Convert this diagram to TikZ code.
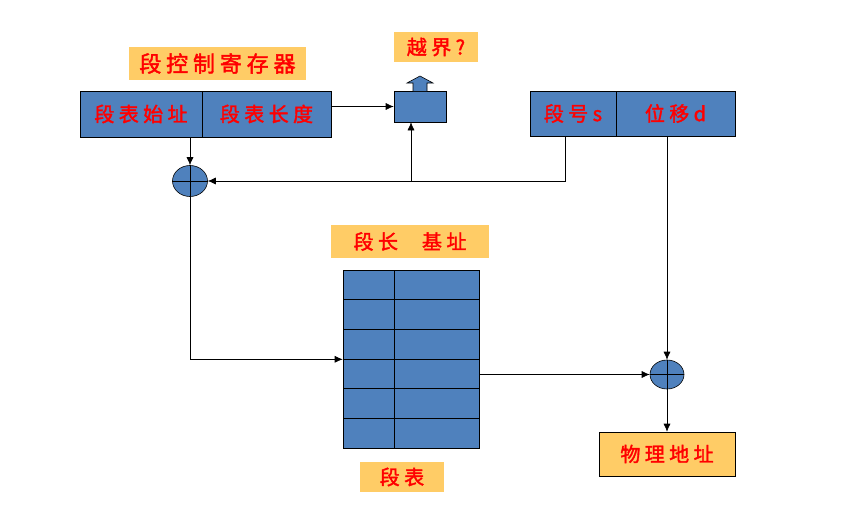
\documentclass[tikz,border=0pt]{standalone}
\usepackage{fontspec}
\newfontfamily\cjk[FakeBold=1.8]{Noto Sans CJK SC}
\usetikzlibrary{positioning,arrows.meta,shapes.geometric}
\definecolor{boxblue}{RGB}{79,129,189}
\definecolor{tagorange}{RGB}{255,204,102}
\definecolor{txtred}{RGB}{255,0,0}
\newcommand{\spaced}[1]{\cjk\fontsize{#1}{#1}\selectfont\addfontfeature{LetterSpace=22}}
\tikzset{
  cell/.style={draw, fill=boxblue, inner sep=0pt, text=txtred, font=\spaced{20}},
  tag/.style={fill=tagorange, inner sep=0pt, text=txtred, font=\spaced{20}},
  adder/.style={draw, ellipse, fill=boxblue, inner sep=0pt}
}
\begin{document}
\begin{tikzpicture}[x=1pt,y=-1pt,>={Latex[length=8pt,width=7pt]},line width=0.6pt]
    \useasboundingbox (0,0) rectangle (853,506);
    % control register
    \node[cell, minimum width=122, minimum height=46] (base) at (141,114) {段表始址};
    \node[cell, minimum width=129, minimum height=46] (len) at (266.5,114) {段表长度};
    \node[tag, font=\spaced{22}, minimum width=177, minimum height=33] (regtag) at (217.5,63.5) {段控制寄存器};
    % bound check
    \node[cell, minimum width=52, minimum height=31] (chk) at (420,106.5) {};
    \fill[boxblue, draw=black] (413,91) -- (413,83) -- (407,83) -- (420,76) -- (433,83) -- (427,83) -- (427,91);
    \node[tag, minimum width=84, minimum height=30] (overtag) at (436,47) {越界?};
    % logical address
    \node[cell, minimum width=86, minimum height=45] (segs) at (573,113.5) {段号s};
    \node[cell, minimum width=119, minimum height=45] (segd) at (675.5,113.5) {位移d};
    % adders
    \node[adder, minimum width=35, minimum height=31] (add1) at (190,181) {};
    \node[adder, minimum width=34, minimum height=29] (add2) at (667,374.5) {};
    % segment table
    \foreach \i in {0,...,5} {
        \node[cell, minimum width=51, minimum height=29.67] (l\i) at (368.5,284.83+29.67*\i) {};
        \node[cell, minimum width=85, minimum height=29.67] (r\i) at (436.5,284.83+29.67*\i) {};
    }
    \node[tag, minimum width=158, minimum height=33] (coltag) at (410,241.5) {段长\hspace{24pt}基址};
    \node[tag, minimum width=84, minimum height=30] (tabtag) at (402,477) {段表};
    \node[tag, draw, minimum width=136, minimum height=44] (phys) at (667,454) {物理地址};
    % connectors
    \coordinate (br) at ([xshift=-9pt]chk.south |- add1.east);
    \draw[->] (len.east |- chk) -- (chk.west);
    \draw[->] (add1 |- base.south) -- (add1.north);
    \draw[->] ([xshift=-8pt]segs.south) |- (add1.east);
    \draw[->] (br) -- ([xshift=-9pt]chk.south);
    \draw[->] (add1.south) |- (l2.south west);
    \draw (add1.north) -- (add1.south) (add1.west) -- (add1.east);
    \draw[->] (add2 |- segd.south) -- (add2.north);
    \draw[->] (r3.east |- add2) -- (add2.west);
    \draw (add2.north) -- (add2.south) (add2.west) -- (add2.east);
    \draw[->] (add2.south) -- (phys.north);
\end{tikzpicture}
\end{document}
